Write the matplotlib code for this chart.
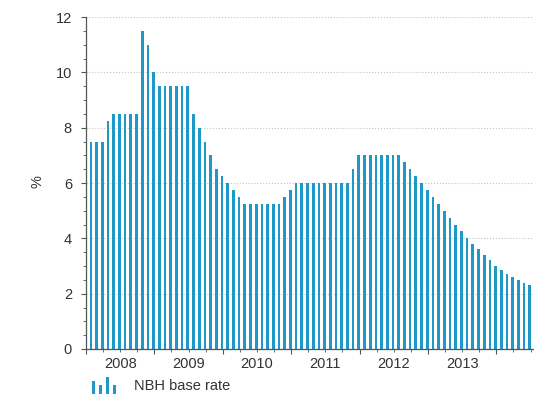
#!/usr/bin/env python3

import matplotlib
matplotlib.use("Agg")
import matplotlib.pyplot as plt
import matplotlib.transforms as mtransforms
from matplotlib.legend_handler import HandlerBase
from matplotlib.patches import Rectangle
from matplotlib.ticker import MultipleLocator


# Data: NBH base rate, end of month, Jan 2008 - Jun 2014
YEARS = ["2008", "2009", "2010", "2011", "2012", "2013"]
BASE_RATE_2008 = [7.5, 7.5, 7.5, 8.25, 8.5, 8.5, 8.5, 8.5, 8.5, 11.5, 11.0, 10.0]
BASE_RATE_2009 = [9.5, 9.5, 9.5, 9.5, 9.5, 9.5, 8.5, 8.0, 7.5, 7.0, 6.5, 6.25]
BASE_RATE_2010 = [6.0, 5.75, 5.5, 5.25, 5.25, 5.25, 5.25, 5.25, 5.25, 5.25, 5.5, 5.75]
BASE_RATE_2011 = [6.0, 6.0, 6.0, 6.0, 6.0, 6.0, 6.0, 6.0, 6.0, 6.0, 6.5, 7.0]
BASE_RATE_2012 = [7.0, 7.0, 7.0, 7.0, 7.0, 7.0, 7.0, 6.75, 6.5, 6.25, 6.0, 5.75]
BASE_RATE_2013 = [5.5, 5.25, 5.0, 4.75, 4.5, 4.25, 4.0, 3.8, 3.6, 3.4, 3.2, 3.0]
BASE_RATE_2014 = [2.85, 2.7, 2.6, 2.5, 2.4, 2.3]
BASE_RATE = (BASE_RATE_2008 + BASE_RATE_2009 + BASE_RATE_2010 + BASE_RATE_2011
             + BASE_RATE_2012 + BASE_RATE_2013 + BASE_RATE_2014)
SERIES_LABEL = "NBH base rate"

BAR_COLOR = "#1e98c8"
TEXT_COLOR = "#333333"
AXIS_COLOR = "#555555"


class MiniBarsHandler(HandlerBase):
    """Legend key drawn as a little group of bars."""

    def create_artists(self, legend, orig_handle, xdescent, ydescent,
                       width, height, fontsize, trans):
        fracs = [0.75, 0.5, 1.0, 0.5]
        step = width / len(fracs)
        artists = []
        for j, f in enumerate(fracs):
            r = Rectangle((-xdescent + j * step, -ydescent - 0.3 * height),
                          step * 0.45, 1.6 * height * f,
                          facecolor=BAR_COLOR, edgecolor="none", transform=trans)
            artists.append(r)
        return artists


def main() -> None:
    plt.rcParams["font.family"] = ["Liberation Sans", "DejaVu Sans"]

    fig = plt.figure(figsize=(5.34, 3.94), dpi=100)
    ax = fig.add_axes([86 / 534, 1 - 349 / 394, 1 - 86 / 534, (349 - 17) / 394])

    # bars sit at month ends
    x = [i + 0.86 for i in range(len(BASE_RATE))]
    bars = ax.bar(x, BASE_RATE, width=0.48, color=BAR_COLOR, zorder=2)

    ax.set_xlim(0, 78.6)
    ax.set_ylim(0, 12)

    ax.yaxis.set_major_locator(MultipleLocator(2))
    ax.yaxis.set_minor_locator(MultipleLocator(0.5))
    ax.xaxis.set_major_locator(MultipleLocator(12))
    ax.xaxis.set_minor_locator(MultipleLocator(3))
    ax.set_xticklabels([])

    ax.tick_params(axis="y", which="major", length=3.6, width=0.8, color=AXIS_COLOR,
                   labelsize=10.5, labelcolor=TEXT_COLOR, pad=6.5)
    ax.tick_params(axis="y", which="minor", length=2.2, width=0.6, color=AXIS_COLOR)
    ax.tick_params(axis="x", which="major", length=3.5, width=0.8, color=AXIS_COLOR)
    ax.tick_params(axis="x", which="minor", length=2.5, width=0.6, color=AXIS_COLOR)

    for side in ("top", "right"):
        ax.spines[side].set_visible(False)
    for side in ("left", "bottom"):
        ax.spines[side].set_color(AXIS_COLOR)
        ax.spines[side].set_linewidth(0.9)

    ax.yaxis.grid(True, which="major", linestyle=":", color="#c4c4c4", linewidth=0.8, zorder=0)
    ax.set_axisbelow(True)

    # year labels centred on each year
    trans = mtransforms.blended_transform_factory(ax.transData, ax.transAxes)
    for k, year in enumerate(YEARS):
        ax.text(k * 12 + 6, -0.025, year, transform=trans, ha="center", va="top",
                fontsize=10.5, color=TEXT_COLOR)

    fig.text(38 / 534, 1 - 182 / 394, "%", rotation=90, ha="center", va="center",
             fontsize=10.5, color=TEXT_COLOR)

    fig.legend([bars], [SERIES_LABEL], loc="center left",
               bbox_to_anchor=(92 / 534, 1 - 386.5 / 394), frameon=False,
               borderpad=0, borderaxespad=0, handlelength=1.9, handletextpad=1.0,
               fontsize=10.5, labelcolor=TEXT_COLOR,
               handler_map={type(bars): MiniBarsHandler()})

    fig.savefig("out.png", dpi=100)
    plt.close(fig)


if __name__ == "__main__":
    main()
